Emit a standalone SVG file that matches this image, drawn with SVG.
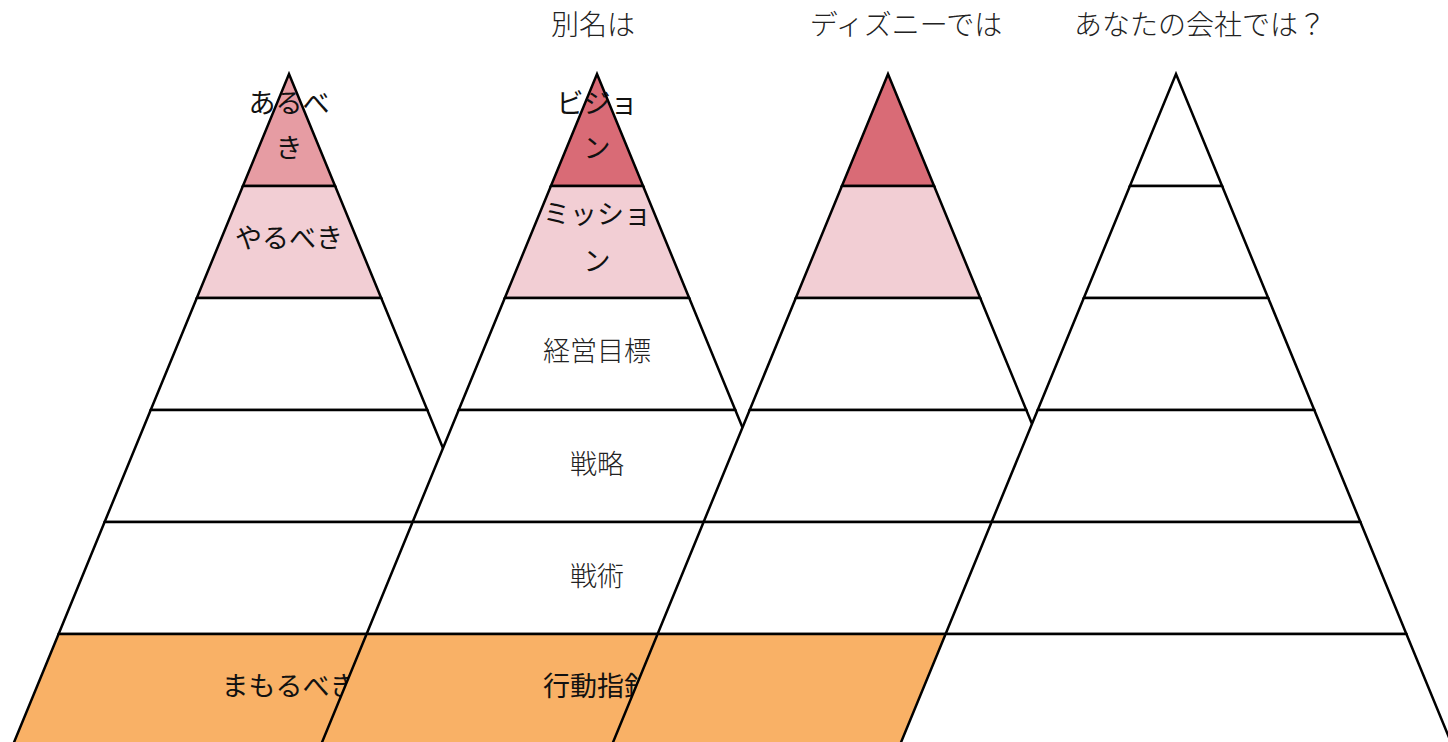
<svg xmlns="http://www.w3.org/2000/svg" width="1448" height="742" viewBox="0 0 1448 742">
<style>
  .layer { stroke: #000; stroke-width: 2.5; fill: #fff; }
  .top1 { fill: #E69CA3; }
  .top2 { fill: #D96B76; }
  .mid { fill: #F2CED4; }
  .base { fill: #F9B166; }
  .lbl { font-family: "Noto Sans CJK JP", "Noto Sans", sans-serif; font-size: 27px; fill: #111; text-anchor: middle; }
  .lbl2 { font-family: "Noto Sans CJK JP", "Noto Sans", sans-serif; font-size: 27px; font-weight: 300; fill: #222; text-anchor: middle; }
  .title { font-family: "Noto Sans CJK JP", "Noto Sans", sans-serif; font-size: 28px; font-weight: 300; fill: #222; text-anchor: middle; }
</style>
<rect width="1448" height="742" fill="#fff"/>
<g id="titles">
  <text class="title" x="593" y="35">別名は</text>
  <text class="title" x="906" y="35">ディズニーでは</text>
  <text class="title" x="1200" y="35">あなたの会社では？</text>
</g>
<g id="pyramid1" transform="translate(289,74)">
  <polygon class="layer top1" points="0,0 46.1,112 -46.1,112"/>
  <polygon class="layer mid" points="-46.1,112 46.1,112 92.2,224 -92.2,224"/>
  <polygon class="layer" points="-92.2,224 92.2,224 138.3,336 -138.3,336"/>
  <polygon class="layer" points="-138.3,336 138.3,336 184.4,448 -184.4,448"/>
  <polygon class="layer" points="-184.4,448 184.4,448 230.4,560 -230.4,560"/>
  <polygon class="layer base" points="-230.4,560 230.4,560 276.5,672 -276.5,672"/>
  <text class="lbl" x="0" y="39">あるべ</text>
  <text class="lbl" x="0" y="84">き</text>
  <text class="lbl" x="0" y="174">やるべき</text>
  <text class="lbl" x="0" y="622">まもるべき</text>
</g>
<g id="pyramid2" transform="translate(597,74)">
  <polygon class="layer top2" points="0,0 46.1,112 -46.1,112"/>
  <polygon class="layer mid" points="-46.1,112 46.1,112 92.2,224 -92.2,224"/>
  <polygon class="layer" points="-92.2,224 92.2,224 138.3,336 -138.3,336"/>
  <polygon class="layer" points="-138.3,336 138.3,336 184.4,448 -184.4,448"/>
  <polygon class="layer" points="-184.4,448 184.4,448 230.4,560 -230.4,560"/>
  <polygon class="layer base" points="-230.4,560 230.4,560 276.5,672 -276.5,672"/>
  <text class="lbl" x="0" y="39">ビジョ</text>
  <text class="lbl" x="0" y="84">ン</text>
  <text class="lbl" x="0" y="150">ミッショ</text>
  <text class="lbl" x="0" y="197">ン</text>
  <text class="lbl2" x="0" y="287">経営目標</text>
  <text class="lbl2" x="0" y="400">戦略</text>
  <text class="lbl2" x="0" y="512">戦術</text>
  <text class="lbl" x="0" y="622">行動指針</text>
</g>
<g id="pyramid3" transform="translate(888,74)">
  <polygon class="layer top2" points="0,0 46.1,112 -46.1,112"/>
  <polygon class="layer mid" points="-46.1,112 46.1,112 92.2,224 -92.2,224"/>
  <polygon class="layer" points="-92.2,224 92.2,224 138.3,336 -138.3,336"/>
  <polygon class="layer" points="-138.3,336 138.3,336 184.4,448 -184.4,448"/>
  <polygon class="layer" points="-184.4,448 184.4,448 230.4,560 -230.4,560"/>
  <polygon class="layer base" points="-230.4,560 230.4,560 276.5,672 -276.5,672"/>
</g>
<g id="pyramid4" transform="translate(1176,74)">
  <polygon class="layer" points="0,0 46.1,112 -46.1,112"/>
  <polygon class="layer" points="-46.1,112 46.1,112 92.2,224 -92.2,224"/>
  <polygon class="layer" points="-92.2,224 92.2,224 138.3,336 -138.3,336"/>
  <polygon class="layer" points="-138.3,336 138.3,336 184.4,448 -184.4,448"/>
  <polygon class="layer" points="-184.4,448 184.4,448 230.4,560 -230.4,560"/>
  <polygon class="layer" points="-230.4,560 230.4,560 276.5,672 -276.5,672"/>
</g>
<g id="connectors"></g>
</svg>
